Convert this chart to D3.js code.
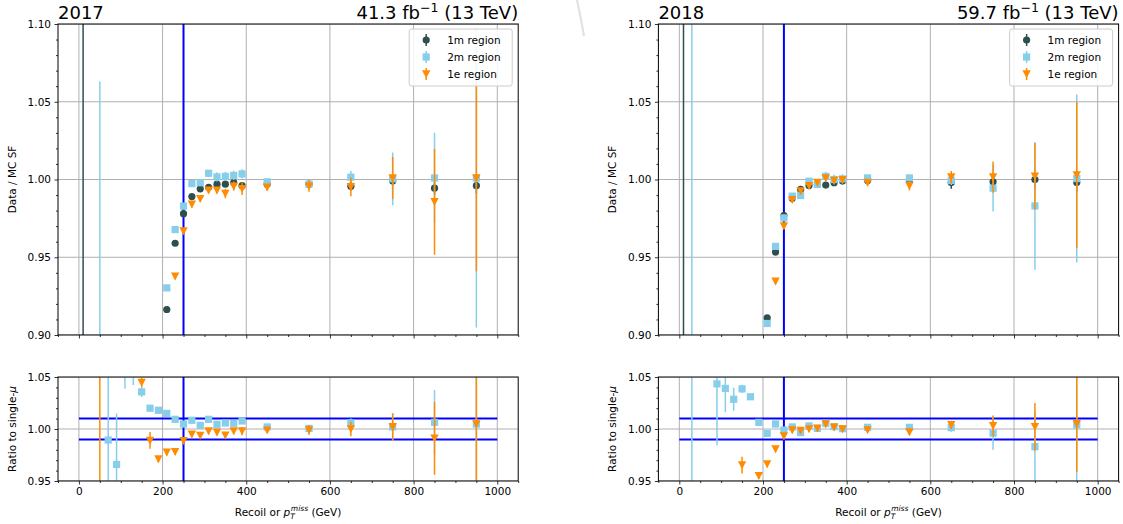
<!DOCTYPE html>
<html><head><meta charset="utf-8">
<script src="https://cdn.jsdelivr.net/npm/d3@7"></script>
<style>body{margin:0;background:#fff;} text{font-family:"DejaVu Sans",sans-serif;}</style>
</head><body>
<svg id="c" width="1123" height="524"></svg>
<script>
const bins = [10,30,50,70,90,110,130,150,170,190,210,230,250,270,290,310,330,350,370,390,450,550,650,750,850,950];
const _ = null;
// 2017 Data/MC SF
const sf2017_1m  = [0.80,_,_,_,_,_,_,_,_,_,0.9164,0.959,0.978,0.989,0.994,0.995,0.997,0.997,0.998,0.996,0.997,0.997,0.9957,0.999,0.9944,0.996];
const err2017_1m = [0.40,_,_,_,_,_,_,_,_,_,0.001,0.0015,0.0015,0.0015,0.0015,0.0015,0.0015,0.0015,0.0015,0.0015,0.0015,0.002,0.003,0.003,0.004,0.005];
const sf2017_2m  = [_,_,0.85,_,_,_,_,_,_,_,0.9303,0.9678,0.9829,0.9974,0.9979,1.004,1.0017,1.002,1.0026,1.0036,0.9985,0.997,1.0015,1.0004,1.001,1.0009];
const err2017_2m = [_,_,0.213,_,_,_,_,_,_,_,0.002,0.002,0.002,0.002,0.002,0.002,0.003,0.003,0.003,0.003,0.002,0.002,0.004,0.017,0.029,0.096];
const sf2017_1e  = [_,_,_,_,_,_,_,_,_,_,_,0.9378,0.9668,0.984,0.9876,0.9931,0.993,0.991,0.9957,0.994,0.995,0.9957,0.9953,1.001,0.9856,1.001];
const err2017_1e = [_,_,_,_,_,_,_,_,_,_,_,0.002,0.002,0.002,0.002,0.002,0.002,0.003,0.003,0.004,0.002,0.0035,0.006,0.0135,0.034,0.060];
// 2017 ratio to single-mu
const r2017_2m   = [_,_,_,0.9894,0.9659,1.10,1.09,1.0357,1.02,1.018,1.015,1.0093,1.0048,1.0084,1.0035,1.0093,1.0045,1.0058,1.0055,1.0077,1.002,1.0006,1.006,1.002,1.0064,1.0048];
const re2017_2m  = [_,_,_,0.2,0.049,0.0614,0.0476,0.005,0.003,0.003,0.003,0.003,0.003,0.003,0.003,0.003,0.003,0.003,0.003,0.003,0.002,0.002,0.004,0.0135,0.031,0.1];
const r2017_1e   = [_,_,1.12,_,_,_,_,1.0447,0.989,0.971,0.9775,0.978,0.9887,0.995,0.9936,0.998,0.9968,0.994,0.998,0.998,0.9987,0.999,1.0,1.002,0.991,1.0048];
const re2017_1e  = [_,_,0.25,_,_,_,_,0.0045,0.008,0.003,0.003,0.003,0.003,0.003,0.003,0.003,0.003,0.003,0.003,0.004,0.002,0.0045,0.007,0.013,0.035,0.1];
// 2018 Data/MC SF
const sf2018_1m  = [0.80,_,_,_,_,_,_,_,_,_,0.911,0.9533,0.9768,0.988,0.9936,0.9961,0.997,0.9964,0.9979,0.999,0.9994,0.999,0.998,0.9985,1.0,0.998];
const err2018_1m = [0.40,_,_,_,_,_,_,_,_,_,0.001,0.0015,0.0015,0.0015,0.0015,0.0015,0.0015,0.0015,0.0015,0.0015,0.0015,0.002,0.004,0.004,0.005,0.006];
const sf2018_2m  = [_,0.80,_,_,_,_,_,_,_,_,0.9074,0.957,0.9753,0.9893,0.9897,0.9989,0.9968,1.002,1.0,1.0004,1.001,1.001,0.9994,0.9944,0.983,1.0006];
const err2018_2m = [_,0.40,_,_,_,_,_,_,_,_,0.002,0.002,0.002,0.002,0.002,0.002,0.002,0.003,0.003,0.003,0.002,0.002,0.003,0.015,0.041,0.054];
const sf2018_1e  = [_,_,_,_,_,_,_,_,_,_,_,0.9346,0.97,0.987,0.9925,0.996,0.998,1.001,0.9994,0.9998,0.998,0.996,1.0015,1.0015,1.002,1.0028];
const err2018_1e = [_,_,_,_,_,_,_,_,_,_,_,0.002,0.002,0.002,0.002,0.002,0.002,0.002,0.002,0.002,0.002,0.003,0.004,0.01,0.0215,0.047];
// 2018 ratio to single-mu
const r2018_2m   = [_,1.12,_,_,1.0434,1.039,1.0286,1.0386,1.031,1.0064,0.9958,1.0048,0.999,1.002,0.9965,1.003,1.0006,1.0055,1.0023,1.0003,1.0016,1.0016,1.0013,0.996,0.983,1.004];
const re2018_2m  = [_,0.25,_,_,0.059,0.023,0.011,0.004,0.003,0.003,0.003,0.003,0.003,0.003,0.003,0.003,0.003,0.003,0.003,0.003,0.002,0.002,0.004,0.016,0.034,0.06];
const r2018_1e   = [_,_,_,_,_,_,_,0.9653,_,0.955,0.9662,0.9807,0.9932,0.999,0.9984,1.0,1.0006,1.0048,1.0016,1.0,0.999,0.997,1.004,1.003,1.002,1.005];
const re2018_1e  = [_,_,_,_,_,_,_,0.008,_,0.003,0.003,0.003,0.003,0.003,0.003,0.003,0.003,0.003,0.003,0.003,0.002,0.003,0.004,0.01,0.023,0.046];

const xTicks = [0,200,400,600,800,1000];
const topYTicks = [0.90,0.95,1.00,1.05,1.10];
const botYTicks = [0.95,1.00,1.05];
const legendLabels = ["1m region","2m region","1e region"];
const colors = {m1:"#2F4F4F", m2:"#87CEEB", e1:"#FF8C00"};

const svg = d3.select("#c");

function drawPanel(cfg){
  const x = d3.scaleLinear().domain([-50,1050]).range([cfg.x0, cfg.x1]);
  const yT = d3.scaleLinear().domain([0.90,1.10]).range([335,24]);
  const yB = d3.scaleLinear().domain([0.95,1.05]).range([481,377]);
  const id = cfg.id;
  const defs = svg.append("defs");
  defs.append("clipPath").attr("id","ct"+id).append("rect").attr("x",cfg.x0).attr("y",24).attr("width",cfg.x1-cfg.x0).attr("height",311);
  defs.append("clipPath").attr("id","cb"+id).append("rect").attr("x",cfg.x0).attr("y",377).attr("width",cfg.x1-cfg.x0).attr("height",104);

  function axesFrame(y, yTicksMajor, clipId, top, bot, showXLabels){
    const g = svg.append("g");
    const gg = g.append("g").attr("clip-path","url(#"+clipId+")");
    xTicks.forEach(t=>gg.append("line").attr("x1",x(t)).attr("x2",x(t)).attr("y1",top).attr("y2",bot).attr("stroke","#b0b0b0").attr("stroke-width",1));
    yTicksMajor.forEach(t=>gg.append("line").attr("x1",cfg.x0).attr("x2",cfg.x1).attr("y1",y(t)).attr("y2",y(t)).attr("stroke","#b0b0b0").attr("stroke-width",1));
    const xa = d3.axisBottom(x).tickValues(xTicks).tickSize(3.5).tickPadding(3.5).tickFormat(showXLabels? d3.format("d") : ()=>"");
    g.append("g").attr("transform",`translate(0,${bot})`).call(xa);
    const xm = d3.axisBottom(x).tickValues(d3.range(-50,1051,50).filter(v=>!xTicks.includes(v))).tickSize(2).tickFormat(()=>"");
    g.append("g").attr("transform",`translate(0,${bot})`).call(xm);
    const ya = d3.axisLeft(y).tickValues(yTicksMajor).tickSize(3.5).tickPadding(3.5).tickFormat(d3.format(".2f"));
    g.append("g").attr("transform",`translate(${cfg.x0},0)`).call(ya);
    const [d0,d1] = y.domain();
    const minors = d3.range(Math.round(d0*100), Math.round(d1*100)+1).map(v=>v/100).filter(v=>!yTicksMajor.some(t=>Math.abs(t-v)<1e-6));
    g.append("g").attr("transform",`translate(${cfg.x0},0)`).call(d3.axisLeft(y).tickValues(minors).tickSize(2).tickFormat(()=>""));
    g.selectAll(".domain").remove();
    g.selectAll(".tick text").attr("font-size","10.5px").attr("fill","#000").attr("font-family","DejaVu Sans");
    g.selectAll(".tick line").attr("stroke","#000").attr("stroke-width",0.8);
    return g;
  }

  axesFrame(yT, topYTicks, "ct"+id, 24, 335, false);
  axesFrame(yB, botYTicks, "cb"+id, 377, 481, true);

  const bt = svg.append("g").attr("clip-path","url(#ct"+id+")");
  bt.append("line").attr("x1",x(250)).attr("x2",x(250)).attr("y1",24).attr("y2",335).attr("stroke","#0000ff").attr("stroke-width",2);
  const bb = svg.append("g").attr("clip-path","url(#cb"+id+")");
  bb.append("line").attr("x1",x(250)).attr("x2",x(250)).attr("y1",377).attr("y2",481).attr("stroke","#0000ff").attr("stroke-width",2);
  [0.99,1.01].forEach(v=>bb.append("line").attr("x1",x(0)).attr("x2",x(1000)).attr("y1",yB(v)).attr("y2",yB(v)).attr("stroke","#0000ff").attr("stroke-width",2));

  function series(g, y, vals, errs, color, shape){
    const pts = bins.map((b,i)=>({b, v:vals[i], e:errs[i]})).filter(d=>d.v!==null);
    g.selectAll(null).data(pts).enter().append("line")
      .attr("x1",d=>x(d.b)).attr("x2",d=>x(d.b))
      .attr("y1",d=>y(d.v-d.e)).attr("y2",d=>y(d.v+d.e))
      .attr("stroke",color).attr("stroke-width",1.5);
    const m = g.selectAll(null).data(pts).enter();
    if(shape==="circle") m.append("circle").attr("cx",d=>x(d.b)).attr("cy",d=>y(d.v)).attr("r",3.6).attr("fill",color);
    if(shape==="square") m.append("rect").attr("x",d=>x(d.b)-3.6).attr("y",d=>y(d.v)-3.6).attr("width",7.2).attr("height",7.2).attr("fill",color);
    if(shape==="tri") m.append("path").attr("d",d=>{const cx=x(d.b), cy=y(d.v); return `M${cx-4.2},${cy-3.8}L${cx+4.2},${cy-3.8}L${cx},${cy+4.2}Z`;}).attr("fill",color);
  }
  const gt = svg.append("g").attr("clip-path","url(#ct"+id+")");
  series(gt, yT, cfg.sf1m, cfg.e1m, colors.m1, "circle");
  series(gt, yT, cfg.sf2m, cfg.e2m, colors.m2, "square");
  series(gt, yT, cfg.sf1e, cfg.e1e, colors.e1, "tri");
  const gb = svg.append("g").attr("clip-path","url(#cb"+id+")");
  series(gb, yB, cfg.r2m, cfg.re2m, colors.m2, "square");
  series(gb, yB, cfg.r1e, cfg.re1e, colors.e1, "tri");

  [[24,335],[377,481]].forEach(([t,b])=>svg.append("rect").attr("x",cfg.x0).attr("y",t).attr("width",cfg.x1-cfg.x0).attr("height",b-t).attr("fill","none").attr("stroke","#000").attr("stroke-width",1));

  svg.append("text").attr("x",cfg.x0).attr("y",19).attr("font-size","18px").text(cfg.year);
  const tr = svg.append("text").attr("x",cfg.x1).attr("y",19).attr("font-size","18px").attr("text-anchor","end");
  tr.append("tspan").text(cfg.lumi+" fb");
  tr.append("tspan").attr("font-size","12.5px").attr("dy",-7).text("\u22121");
  tr.append("tspan").attr("dy",7).text(" (13 TeV)");

  svg.append("text").attr("transform",`translate(${cfg.x0-42},179.5) rotate(-90)`).attr("text-anchor","middle").attr("font-size","10.5px").text("Data / MC SF");
  const yl = svg.append("text").attr("transform",`translate(${cfg.x0-42},429) rotate(-90)`).attr("text-anchor","middle").attr("font-size","10.5px");
  yl.append("tspan").text("Ratio to single-");
  yl.append("tspan").attr("font-style","italic").text("\u03bc");

  const xl = svg.append("text").attr("x",(cfg.x0+cfg.x1)/2).attr("y",516).attr("text-anchor","middle").attr("font-size","10.5px");
  xl.append("tspan").text("Recoil or ");
  xl.append("tspan").attr("font-style","italic").text("p");
  xl.append("tspan").attr("font-style","italic").attr("font-size","7.5px").attr("dy",3).text("T");
  xl.append("tspan").attr("font-style","italic").attr("font-size","7.5px").attr("dx",-4).attr("dy",-8).text("miss");
  xl.append("tspan").attr("dy",5).text(" (GeV)");

  const lx = cfg.x1-109, ly = 29;
  const lg = svg.append("g");
  lg.append("rect").attr("x",lx).attr("y",ly).attr("width",103).attr("height",57).attr("rx",2.5).attr("fill","#fff").attr("fill-opacity",0.85).attr("stroke","#cccccc").attr("stroke-width",1);
  const shapes = [["circle",colors.m1],["square",colors.m2],["tri",colors.e1]];
  shapes.forEach(([s,c],i)=>{
    const cx = lx+17, cy = ly+11+i*17;
    lg.append("line").attr("x1",cx).attr("x2",cx).attr("y1",cy-6).attr("y2",cy+6).attr("stroke",c).attr("stroke-width",1.5);
    if(s==="circle") lg.append("circle").attr("cx",cx).attr("cy",cy).attr("r",3.6).attr("fill",c);
    if(s==="square") lg.append("rect").attr("x",cx-3.6).attr("y",cy-3.6).attr("width",7.2).attr("height",7.2).attr("fill",c);
    if(s==="tri") lg.append("path").attr("d",`M${cx-4.2},${cy-3.8}L${cx+4.2},${cy-3.8}L${cx},${cy+4.2}Z`).attr("fill",c);
    lg.append("text").attr("x",lx+38).attr("y",cy+4).attr("font-size","10.5px").text(legendLabels[i]);
  });
}

drawPanel({id:"a", x0:58, x1:518.2, year:"2017", lumi:"41.3",
  sf1m:sf2017_1m, e1m:err2017_1m, sf2m:sf2017_2m, e2m:err2017_2m, sf1e:sf2017_1e, e1e:err2017_1e,
  r2m:r2017_2m, re2m:re2017_2m, r1e:r2017_1e, re1e:re2017_1e});
drawPanel({id:"b", x0:658.4, x1:1118.6, year:"2018", lumi:"59.7",
  sf1m:sf2018_1m, e1m:err2018_1m, sf2m:sf2018_2m, e2m:err2018_2m, sf1e:sf2018_1e, e1e:err2018_1e,
  r2m:r2018_2m, re2m:re2018_2m, r1e:r2018_1e, re1e:re2018_1e});

svg.append("path").attr("d","M577,0 Q581,18 584,36").attr("fill","none").attr("stroke","#e2e2e2").attr("stroke-width",2.2);
</script>
</body></html>
